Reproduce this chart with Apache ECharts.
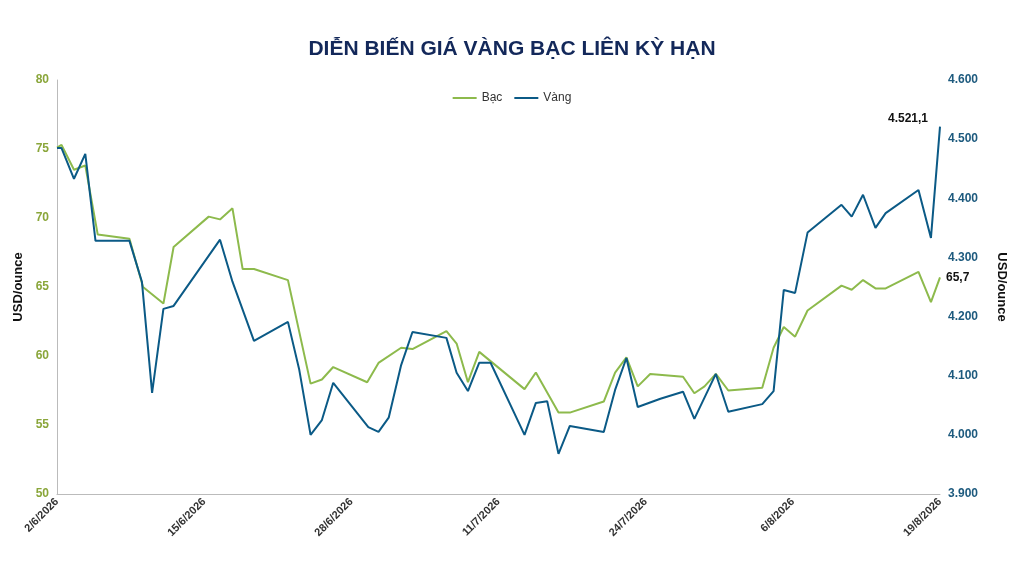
<!DOCTYPE html><html><head><meta charset="utf-8"><script src="https://cdn.jsdelivr.net/npm/echarts@6/dist/echarts.min.js"></script></head><body style="margin:0"><div id="c" style="width:1024px;height:576px"></div><script>
const tickLabels=['2/6/2026','15/6/2026','28/6/2026','11/7/2026','24/7/2026','6/8/2026','19/8/2026'];
const goldDays=[0,0.4,1.5,2.5,3.4,6.4,7.5,8.4,9.4,10.3,14.4,15.5,17.4,20.4,21.4,22.4,23.4,24.4,27.5,28.4,29.3,30.4,31.4,34.4,35.3,36.3,37.3,38.3,41.3,42.3,43.3,44.3,45.3,48.3,49.3,50.3,51.3,53.3,55.3,56.3,58.2,59.3,62.3,63.3,64.2,65.2,66.3,69.3,70.2,71.2,72.3,73.2,76.1,77.2,78];
const goldVals=[4485,4485,4433,4475,4328,4328,4259,4071,4213,4218,4330,4259,4159,4191,4110,4000,4025,4088,4013,4005,4029,4118,4174,4164,4105,4074,4122,4122,4000,4054,4057,3968,4015,4005,4076,4130,4047,4061,4073,4027,4103,4039,4052,4074,4245,4240,4342,4389,4369,4406,4350,4375,4414,4333,4521.1];
const silverDays=[0,0.4,1.5,2.5,3.6,6.4,7.6,9.4,10.3,13.4,14.4,15.5,16.4,17.4,20.4,22.4,23.4,24.4,27.4,28.4,30.4,31.4,34.4,35.3,36.3,37.3,41.3,42.3,44.3,45.3,48.3,49.3,50.3,51.3,52.4,55.3,56.3,57.2,58.2,59.3,62.3,63.3,64.2,65.2,66.3,69.3,70.2,71.2,72.3,73.2,76.1,77.2,78];
const silverVals=[75.1,75.3,73.5,73.8,68.8,68.5,65.0,63.8,67.9,70.1,69.9,70.7,66.3,66.3,65.5,58.0,58.3,59.2,58.1,59.5,60.6,60.5,61.8,60.9,58.1,60.3,57.6,58.8,55.9,55.9,56.7,58.8,59.9,57.8,58.7,58.5,57.3,57.8,58.7,57.5,57.7,60.6,62.1,61.4,63.3,65.1,64.8,65.5,64.9,64.9,66.1,63.9,65.7];
const fmt=v=>v.toFixed(1).replace('.',',');
const fmtK=v=>{const [a,b]=v.toFixed(1).split('.');return a.replace(/\B(?=(\d{3})+(?!\d))/g,'.')+','+b;};
const ch=echarts.init(document.getElementById('c'));
ch.setOption({
 textStyle:{fontFamily:'Liberation Sans'},
 title:{text:'DIỄN BIẾN GIÁ VÀNG BẠC LIÊN KỲ HẠN',left:'center',top:34,textStyle:{fontSize:21,fontWeight:'bold',color:'#13285a',fontFamily:'Liberation Sans'}},
 legend:{top:87,left:'center',itemWidth:24,itemHeight:2,icon:'rect',itemGap:12,textStyle:{fontSize:12,color:'#333'},data:['Bạc','Vàng']},
 grid:{left:57,right:84,top:80,bottom:82},
 xAxis:{type:'value',min:0,max:78,interval:13,axisLine:{show:true,lineStyle:{color:'#bbb'}},axisTick:{show:false},splitLine:{show:false},
  axisLabel:{rotate:45,fontWeight:'bold',fontSize:11,color:'#333',margin:6,formatter:v=>tickLabels[Math.round(v/13)]}},
 yAxis:[{type:'value',min:50,max:80,interval:5,name:'USD/ounce',nameLocation:'middle',nameGap:32,nameTextStyle:{fontWeight:'bold',fontSize:13,color:'#111'},
   axisLine:{show:true,lineStyle:{color:'#bbb'}},axisTick:{show:false},splitLine:{show:false},axisLabel:{color:'#8aa63a',fontWeight:'bold',fontSize:12}},
  {type:'value',min:3900,max:4600,interval:100,name:'USD/ounce',nameLocation:'middle',nameGap:55,nameRotate:-90,nameTextStyle:{fontWeight:'bold',fontSize:13,color:'#111'},
   axisLine:{show:false},axisTick:{show:false},splitLine:{show:false},axisLabel:{color:'#1d5a7e',fontWeight:'bold',fontSize:12,formatter:v=>fmtK(v).replace(/,0$/,'').replace(/^(\d)\.(\d{3})$/,'$1.$2')}}],
 series:[{name:'Bạc',type:'line',yAxisIndex:0,data:silverDays.map((d,i)=>[d,silverVals[i]]),symbol:'none',lineStyle:{width:2,color:'#8dba4c'},itemStyle:{color:'#8dba4c'},
   endLabel:{show:true,formatter:p=>fmt(p.value[1]),fontWeight:'bold',fontSize:12,color:'#111',distance:6}},
  {name:'Vàng',type:'line',yAxisIndex:1,data:goldDays.map((d,i)=>[d,goldVals[i]]),symbol:'none',lineStyle:{width:2,color:'#0b5a86'},itemStyle:{color:'#0b5a86'},
   endLabel:{show:true,formatter:p=>fmtK(p.value[1]),fontWeight:'bold',fontSize:12,color:'#111',offset:[-60,-8]}}]
});
</script></body></html>
